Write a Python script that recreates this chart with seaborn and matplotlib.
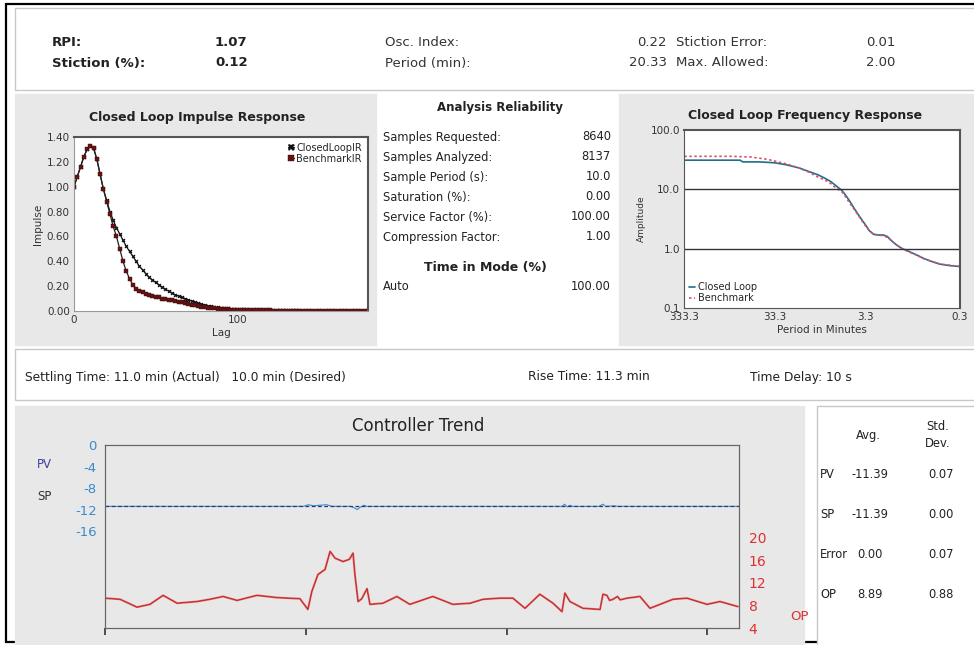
import numpy as np
import pandas as pd
import seaborn as sns
import matplotlib.pyplot as plt
from matplotlib.patches import Rectangle

# %% data
lags = list(range(0, 182, 2))
closed_ir = [1.00, 1.08, 1.16, 1.24, 1.30, 1.33, 1.31, 1.22, 1.10, 0.98, 0.89, 0.80, 0.73, 0.67, 0.62,
             0.57, 0.52, 0.48, 0.44, 0.40, 0.36, 0.33, 0.30, 0.27, 0.25, 0.23, 0.21, 0.19, 0.175, 0.16,
             0.145, 0.13, 0.12, 0.11, 0.10, 0.09, 0.08, 0.07, 0.062, 0.055, 0.048, 0.042, 0.037, 0.033,
             0.029, 0.026, 0.023, 0.021, 0.019, 0.017, 0.015, 0.014, 0.013, 0.012, 0.011, 0.010, 0.010,
             0.009, 0.009, 0.008, 0.008, 0.007, 0.007, 0.006, 0.006, 0.006, 0.005, 0.005, 0.005, 0.005,
             0.004, 0.004, 0.004, 0.004, 0.004, 0.003, 0.003, 0.003, 0.003, 0.003, 0.003, 0.003, 0.002,
             0.002, 0.002, 0.002, 0.002, 0.002, 0.002, 0.002, 0.002]
bench_ir = [1.00, 1.08, 1.16, 1.24, 1.30, 1.33, 1.31, 1.22, 1.10, 0.98, 0.88, 0.78, 0.68, 0.60, 0.50,
            0.40, 0.32, 0.26, 0.21, 0.18, 0.16, 0.15, 0.14, 0.13, 0.12, 0.115, 0.11, 0.10, 0.095, 0.09,
            0.085, 0.08, 0.075, 0.07, 0.065, 0.06, 0.05, 0.045, 0.04, 0.035, 0.03, 0.028, 0.025, 0.022,
            0.02, 0.018, 0.016, 0.014, 0.012, 0.011, 0.010, 0.009, 0.008, 0.008, 0.007, 0.007, 0.006,
            0.006, 0.005, 0.005, 0.005, 0.004, 0.004, 0.004, 0.004, 0.003, 0.003, 0.003, 0.003, 0.003,
            0.002, 0.002, 0.002, 0.002, 0.002, 0.002, 0.002, 0.002, 0.001, 0.001, 0.001, 0.001, 0.001,
            0.001, 0.001, 0.001, 0.001, 0.001, 0.001, 0.001, 0.001]

period_cl = [333.3, 150, 80, 75, 50, 40, 33.3, 25, 18, 14, 11, 9, 8, 7, 6, 5.5, 5, 4.5, 4, 3.6, 3.3,
             3.0, 2.7, 2.4, 2.1, 1.9, 1.7, 1.5, 1.3, 1.1, 0.9, 0.75, 0.6, 0.5, 0.4, 0.3]
amp_cl = [31, 31, 31, 29, 29, 28.5, 28, 26, 23, 20, 17.5, 15, 13.5, 11.5, 9.5, 8, 6.5, 5, 3.8, 3.0, 2.5,
          2.0, 1.75, 1.7, 1.7, 1.6, 1.35, 1.15, 1.0, 0.9, 0.78, 0.68, 0.6, 0.55, 0.52, 0.5]
period_bm = [333.3, 100, 60, 40, 33.3, 25, 18, 14, 11, 9, 8, 7, 6, 5.5, 5, 4.5, 4, 3.6, 3.3, 3.0, 2.7,
             2.4, 2.1, 1.9, 1.7, 1.5, 1.3, 1.1, 0.9, 0.75, 0.6, 0.5, 0.4, 0.3]
amp_bm = [36, 36, 35, 32, 30, 27, 23, 19.5, 16, 14, 12.5, 10.5, 9, 7.5, 6, 4.8, 3.7, 2.9, 2.4, 2.0, 1.75,
          1.7, 1.65, 1.55, 1.35, 1.15, 1.0, 0.88, 0.78, 0.68, 0.6, 0.55, 0.53, 0.5]

# trend, time in hours (24 h = 8640 samples of 10 s)
op_t = [0.0, 0.57, 1.21, 1.70, 2.20, 2.73, 3.48, 3.97, 4.47, 5.00, 5.75, 6.51, 7.38, 7.68, 7.83, 8.06,
        8.33, 8.52, 8.71, 9.01, 9.25, 9.39, 9.46, 9.58, 9.72, 9.92, 10.03, 10.52, 11.05, 11.54, 12.41,
        13.17, 13.82, 14.31, 14.95, 15.44, 15.90, 16.46, 16.96, 17.30, 17.41, 17.60, 18.09, 18.74,
        18.85, 19.00, 19.10, 19.23, 19.40, 19.50, 19.76, 20.25, 20.63, 21.50, 22.03, 22.79, 23.28, 23.96]
op_v = [9.3, 9.1, 7.7, 8.2, 9.8, 8.4, 8.7, 9.1, 9.6, 8.9, 9.8, 9.4, 9.2, 7.3, 10.5, 13.5,
        14.4, 17.6, 16.4, 15.8, 16.2, 17.3, 13.5, 8.7, 9.2, 11.0, 8.2, 8.4, 9.6, 8.2, 9.6,
        8.2, 8.4, 9.1, 9.3, 9.3, 7.5, 10.0, 8.4, 6.9, 10.2, 8.7, 7.5, 7.3,
        10.0, 9.8, 8.9, 9.1, 9.6, 9.0, 9.3, 9.6, 7.5, 9.1, 9.3, 8.2, 8.7, 7.8]
pv_t = [0, 7.5, 7.7, 7.9, 8.1, 8.4, 8.6, 9.3, 9.45, 9.55, 9.65, 9.8, 9.9, 17.3, 17.4, 17.5, 17.6,
        17.7, 18.7, 18.85, 18.95, 19.3, 19.4, 24]
pv_v = [-11.4, -11.4, -11.1, -11.3, -11.2, -11.1, -11.4, -11.4, -11.7, -12.0, -11.6, -11.2, -11.4,
        -11.4, -11.0, -11.5, -11.2, -11.4, -11.4, -11.0, -11.4, -11.3, -11.4, -11.4]
sp_t = [0, 24]
sp_v = [-11.39, -11.39]

summary_top = [("RPI:", "1.07", "Osc. Index:", "0.22", "Stiction Error:", "0.01"),
               ("Stiction (%):", "0.12", "Period (min):", "20.33", "Max. Allowed:", "2.00")]
reliability = [("Samples Requested:", "8640"), ("Samples Analyzed:", "8137"),
               ("Sample Period (s):", "10.0"), ("Saturation (%):", "0.00"),
               ("Service Factor (%):", "100.00"), ("Compression Factor:", "1.00")]
stats_rows = [("PV", "-11.39", "0.07"), ("SP", "-11.39", "0.00"),
              ("Error", "0.00", "0.07"), ("OP", "8.89", "0.88")]

# %% layout helpers (pixel coordinates)
W, H = 974, 645
sns.set_style("white")
plt.rcParams['font.family'] = ['DejaVu Sans']
plt.rcParams['axes.unicode_minus'] = False
GREY = '#e8e8e8'
EDGE = '#c8c8c8'
TXT = '#222222'

fig = plt.figure(figsize=(W / 100, H / 100), dpi=100)
bg = fig.add_axes([0, 0, 1, 1])
bg.set_xlim(0, W)
bg.set_ylim(H, 0)
bg.axis('off')


def box(x0, y0, x1, y1, fc, ec=EDGE, lw=1):
    bg.add_patch(Rectangle((x0, y0), x1 - x0, y1 - y0, fc=fc, ec=ec, lw=lw))


def pax(x0, y0, x1, y1):
    return fig.add_axes([x0 / W, 1 - y1 / H, (x1 - x0) / W, (y1 - y0) / H])


box(6, 4, W + 5, 642, 'white', 'black', 1.6)
box(15, 8, W + 5, 90, 'white')
box(15, 94, 376, 345, GREY, GREY)
box(619, 94, W + 5, 345, GREY, GREY)
box(15, 349, W + 5, 400, 'white')
box(15, 406, 804, 650, GREY, GREY)
box(817, 406, W + 5, 650, 'white')

# top summary
for i, row in enumerate(summary_top):
    y = 42 + i * 21
    bg.text(52, y, row[0], fontsize=9.5, fontweight='bold', color=TXT, va='center')
    bg.text(215, y, row[1], fontsize=9.5, fontweight='bold', color=TXT, va='center')
    bg.text(385, y, row[2], fontsize=9.5, color='#333333', va='center')
    bg.text(667, y, row[3], fontsize=9.5, color='#333333', va='center', ha='right')
    bg.text(676, y, row[4], fontsize=9.5, color='#333333', va='center')
    bg.text(866, y, row[5], fontsize=9.5, color='#333333', va='center')

# analysis reliability
bg.text(500, 107, "Analysis Reliability", fontsize=8.5, fontweight='bold', color=TXT, ha='center', va='center')
for i, (lab, val) in enumerate(reliability):
    y = 137 + i * 20
    bg.text(383, y, lab, fontsize=8.3, color=TXT, va='center')
    bg.text(611, y, val, fontsize=8.3, color=TXT, va='center', ha='right')
bg.text(485, 267, "Time in Mode (%)", fontsize=9, fontweight='bold', color=TXT, ha='center', va='center')
bg.text(383, 286, "Auto", fontsize=8.3, color=TXT, va='center')
bg.text(611, 286, "100.00", fontsize=8.3, color=TXT, va='center', ha='right')

# middle band
bg.text(25, 377, "Settling Time: 11.0 min (Actual)   10.0 min (Desired)", fontsize=8.8, color=TXT, va='center')
bg.text(528, 377, "Rise Time: 11.3 min", fontsize=8.8, color=TXT, va='center')
bg.text(750, 377, "Time Delay: 10 s", fontsize=8.8, color=TXT, va='center')

# %% impulse response
ir = pd.DataFrame({'lag': lags, 'closed': closed_ir, 'bench': bench_ir})
ax1 = pax(74, 137, 368, 311)
sns.lineplot(data=ir, x='lag', y='closed', ax=ax1, color='#111111', lw=0.9, marker='X',
             markersize=2.8, markeredgewidth=0, label='ClosedLoopIR')
sns.lineplot(data=ir, x='lag', y='bench', ax=ax1, color='#222222', lw=0.9, marker='s',
             markersize=2.2, markerfacecolor='#6a1010', markeredgecolor='#301010',
             markeredgewidth=0.3, label='BenchmarkIR')
ax1.set_xlim(0, 180)
ax1.set_ylim(0, 1.40)
ax1.set_yticks(np.arange(0, 1.41, 0.2))
ax1.set_yticklabels([f"{v:.2f}" for v in np.arange(0, 1.41, 0.2)])
ax1.set_xticks([0, 100])
ax1.tick_params(labelsize=7.5, length=0, pad=3, colors='#333333')
ax1.set_xlabel("Lag", fontsize=7.5, color='#333333', labelpad=2)
ax1.set_ylabel("Impulse", fontsize=7.5, color='#333333', labelpad=3)
for s in ['top', 'right']:
    ax1.spines[s].set_color('#555555')
    ax1.spines[s].set_linewidth(1.5)
for s in ['left', 'bottom']:
    ax1.spines[s].set_color('#999999')
ax1.legend(loc='upper right', frameon=False, fontsize=7, handlelength=0.6, handletextpad=0.3,
           borderaxespad=0.2, labelspacing=0.1, markerscale=1.8)
bg.text(197, 118, "Closed Loop Impulse Response", fontsize=9, fontweight='bold', color=TXT,
        ha='center', va='center')

# %% frequency response
ax2 = pax(684, 130, 960, 308)
sns.lineplot(x=period_cl, y=amp_cl, ax=ax2, color='#1f6f8b', lw=1.2, label='Closed Loop')
sns.lineplot(x=period_bm, y=amp_bm, ax=ax2, color='#e0506a', lw=1.2, linestyle=(0, (1.5, 1.5)),
             label='Benchmark')
ax2.set_xscale('log')
ax2.set_yscale('log')
ax2.set_xlim(333.3, 0.3)
ax2.set_ylim(0.1, 100)
ax2.set_xticks([333.3, 33.3, 3.3, 0.3])
ax2.set_xticklabels(["333.3", "33.3", "3.3", "0.3"])
ax2.set_yticks([0.1, 1, 10, 100])
ax2.set_yticklabels(["0.1", "1.0", "10.0", "100.0"])
ax2.minorticks_off()
for v in [1, 10]:
    ax2.axhline(v, color='#333333', lw=1)
ax2.tick_params(labelsize=7.5, length=0, pad=3, colors='#333333')
ax2.set_xlabel("Period in Minutes", fontsize=7.5, color='#333333', labelpad=2)
ax2.set_ylabel("Amplitude", fontsize=6.5, color='#333333', labelpad=3)
for s in ax2.spines.values():
    s.set_color('#555555')
ax2.spines['right'].set_linewidth(1.5)
ax2.spines['top'].set_linewidth(1.5)
ax2.legend(loc='lower left', frameon=False, fontsize=7, handlelength=0.6, handletextpad=0.3,
           borderaxespad=0.1, labelspacing=0.1)
bg.text(805, 116, "Closed Loop Frequency Response", fontsize=9, fontweight='bold', color=TXT,
        ha='center', va='center')

# %% controller trend
ax3 = pax(105, 445, 739, 628)
ax3.set_facecolor(GREY)
sns.lineplot(x=pv_t, y=pv_v, ax=ax3, color='#3a8ad8', lw=0.8)
sns.lineplot(x=sp_t, y=sp_v, ax=ax3, color='#2a3a6a', lw=0.9, linestyle=(0, (3, 2)))
ax3.set_xlim(0, 24)
ax3.set_ylim(-34, 0)
ax3.set_yticks([0, -4, -8, -12, -16])
ax3.set_xticks([0, 7.6, 15.2, 22.8])
ax3.set_xticklabels([])
ax3.tick_params(axis='y', labelsize=9.5, length=0, pad=6, labelcolor='#3a8ad0')
ax3.tick_params(axis='x', length=5, direction='out', color='#333333', width=1.2, bottom=True)
for s in ax3.spines.values():
    s.set_color('#666666')
ax4 = ax3.twinx()
sns.lineplot(x=op_t, y=op_v, ax=ax4, color='#f05050', lw=1.4)
sns.lineplot(x=op_t, y=op_v, ax=ax4, color='#601818', lw=0.4, alpha=0.7)
ax4.set_ylim(4, 36.5)
ax4.set_yticks([4, 8, 12, 16, 20])
ax4.tick_params(axis='y', labelsize=10, length=0, pad=7, labelcolor='#e03030')
for s in ax4.spines.values():
    s.set_color('#666666')
ax3.set_ylabel("")
ax4.set_ylabel("")
bg.text(418, 426, "Controller Trend", fontsize=12, color=TXT, ha='center', va='center')
bg.text(37, 464, "PV", fontsize=8.5, color='#4040a0', va='center')
bg.text(37, 496, "SP", fontsize=8.5, color='#333333', va='center')
bg.text(790, 617, "OP", fontsize=9.5, color='#e03030', va='center')

# stats table
bg.text(868, 435, "Avg.", fontsize=8.3, color=TXT, ha='center', va='center')
bg.text(938, 435, "Std.\nDev.", fontsize=8.3, color=TXT, ha='center', va='center', linespacing=1.4)
for i, (lab, avg, sd) in enumerate(stats_rows):
    y = 474 + i * 40
    bg.text(820, y, lab, fontsize=8.3, color=TXT, va='center')
    bg.text(870, y, avg, fontsize=8.3, color=TXT, va='center', ha='center')
    bg.text(941, y, sd, fontsize=8.3, color=TXT, va='center', ha='center')

plt.savefig("out.png", dpi=100)
